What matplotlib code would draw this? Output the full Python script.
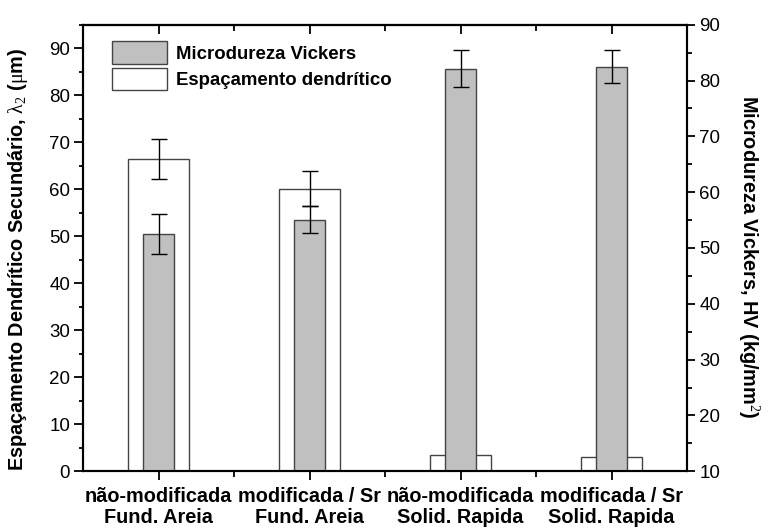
import matplotlib
matplotlib.use("Agg")
import matplotlib.pyplot as plt
import numpy as np
from matplotlib.ticker import MultipleLocator, FixedLocator, NullFormatter
from matplotlib.patches import Patch

plt.rcParams['font.family'] = ['Liberation Sans', 'DejaVu Sans']
plt.rcParams['mathtext.fontset'] = 'custom'
plt.rcParams['mathtext.rm'] = 'Liberation Serif'
plt.rcParams['mathtext.it'] = 'Liberation Serif:italic'

categories = ['não-modificada\nFund. Areia', 'modificada / Sr\nFund. Areia',
              'não-modificada\nSolid. Rapida', 'modificada / Sr\nSolid. Rapida']
espacamento = [66.4, 60.1, 3.5, 3.1]
espacamento_err = [4.3, 3.7, 0.0, 0.0]
microdureza = [52.5, 55.1, 82.1, 82.5]
microdureza_err = [3.6, 2.4, 3.3, 2.9]

fig = plt.figure(figsize=(7.69, 5.28), dpi=100)
ax = fig.add_axes([83/769, 1-471.3/528, 604/769, 446.6/528])
ax2 = ax.twinx()

x = np.arange(1, len(categories) + 1)

# white bars (left axis)
ax.bar(x, espacamento, width=0.40, color='white', edgecolor='#444444', linewidth=1.0, zorder=2)
e = np.array(espacamento_err)
m = e > 0
ax.errorbar(x[m], np.array(espacamento)[m], yerr=e[m], fmt='none', ecolor='black',
            elinewidth=1.0, capsize=6, capthick=1.0, zorder=3)

# gray bars (right axis)
ax2.bar(x, microdureza, width=0.205, color='#c0c0c0', edgecolor='#444444', linewidth=1.0, zorder=2)
ax2.errorbar(x, microdureza, yerr=microdureza_err, fmt='none', ecolor='black',
             elinewidth=1.0, capsize=6, capthick=1.0, zorder=3)

ax.set_xlim(0.5, len(categories) + 0.5)
ax.set_ylim(0, 95)
ax2.set_ylim(10, 90)

# y axes ticks
ax.yaxis.set_major_locator(MultipleLocator(10))
ax.yaxis.set_minor_locator(MultipleLocator(5))
ax2.yaxis.set_major_locator(MultipleLocator(10))
ax2.yaxis.set_minor_locator(MultipleLocator(5))
ax.tick_params(axis='y', which='major', direction='out', length=6.3, width=1.3, labelsize=13.5, pad=3)
ax.tick_params(axis='y', which='minor', direction='out', length=3, width=1.3)
ax2.tick_params(axis='y', which='major', direction='out', length=6, width=1.3, labelsize=13.5, pad=3)
ax2.tick_params(axis='y', which='minor', direction='out', length=3.6, width=1.3)

# x ticks
ax.set_xticks(x)
ax.set_xticklabels(categories, fontweight='bold', fontsize=14.3, linespacing=1.15)
ax.xaxis.set_minor_locator(FixedLocator(x[:-1] + 0.5))
ax.tick_params(axis='x', which='major', direction='out', length=6.5, width=1.3, pad=4.5)
ax.tick_params(axis='x', which='minor', direction='out', length=4.3, width=1.3)

sec = ax.secondary_xaxis('top')
sec.set_xticks(x)
sec.xaxis.set_minor_locator(FixedLocator(x[:-1] + 0.5))
sec.xaxis.set_major_formatter(NullFormatter())
sec.tick_params(axis='x', which='major', direction='in', length=6.5, width=1.3)
sec.tick_params(axis='x', which='minor', direction='in', length=4.3, width=1.3)

for a in (ax, ax2):
    for s in a.spines.values():
        s.set_linewidth(1.5)
sec.spines['top'].set_linewidth(1.5)

fig.text(18/769, 1-259/528, r'Espaçamento Dendrítico Secundário, $\mathrm{\lambda}_2$ ($\mathrm{\mu}$m)',
         rotation=90, ha='center', va='center', fontsize=14.3, fontweight='bold')
fig.text(749/769, 1-257/528, r'Microdureza Vickers, HV (kg/mm$^{2}$)',
         rotation=270, ha='center', va='center', fontsize=14.3, fontweight='bold')

handles = [Patch(facecolor='#c0c0c0', edgecolor='#444444', linewidth=1.0),
           Patch(facecolor='white', edgecolor='#444444', linewidth=1.0)]
leg = ax2.legend(handles, ['Microdureza Vickers', 'Espaçamento dendrítico'],
                 loc='upper left', bbox_to_anchor=(0.048, 0.963), frameon=False,
                 borderpad=0, borderaxespad=0, handlelength=2.95, handleheight=1.5,
                 labelspacing=0.2, handletextpad=0.5,
                 prop={'weight': 'bold', 'size': 13.4})

fig.savefig('out.png', dpi=100)
